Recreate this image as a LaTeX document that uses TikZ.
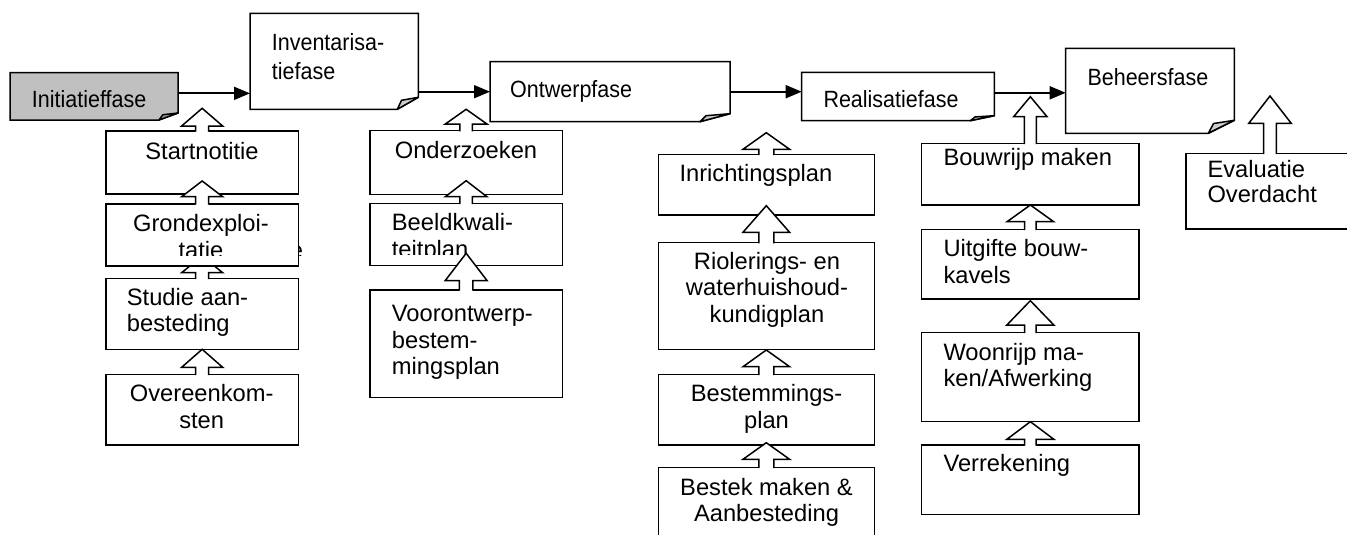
\documentclass[tikz,border=0pt]{standalone}
\usepackage{fontspec}
\setmainfont{Liberation Sans}
\newfontfamily\condsans{Liberation Sans}[FakeStretch=0.915]
\usetikzlibrary{arrows.meta}

\definecolor{phasegray}{HTML}{C0C0C0}
\definecolor{flapgray}{HTML}{9A9A9A}
\definecolor{flaplight}{HTML}{CCCCCC}

\newcommand\bodyfont{\fontsize{23.7}{26.5}\selectfont}
\newcommand\phasefont{\condsans\fontsize{23.5}{29}\selectfont}
\newcommand\stack[2]{\begin{tabular}[t]{@{}#1@{}}#2\end{tabular}}

\tikzset{
  frame/.style={inner sep=0pt, outer sep=0pt, anchor=north west},
  boxline/.style={draw=black, line width=1.5pt, fill=white},
  txt/.style={inner sep=0pt, font=\bodyfont},
  ptxt/.style={inner sep=0pt, font=\phasefont},
  flow/.style={line width=1.8pt, -{Triangle[length=16pt,width=13pt]}},
  blockline/.style={line width=1.5pt, line join=miter},
}

% phase box with a folded lower right corner:
% #1 node, #2 fill, #3 fold width, #4 fold height, #5 flap fill
\newcommand\foldbox[5]{%
  \draw[boxline, fill=#2] (#1.north west) -- (#1.north east)
    -- ([yshift=#4pt]#1.south east) -- ([xshift=-#3pt]#1.south east)
    -- (#1.south west) -- cycle;
  \draw[boxline, fill=#5, line join=round] ([xshift=-#3pt]#1.south east)
    -- ([xshift={-0.8*#3pt}, yshift={0.75*#4pt}]#1.south east)
    -- ([yshift=#4pt]#1.south east) -- cycle;}

% hollow upward block arrow starting at a box top:
% #1 start point, #2 length, #3 head height, #4 head half width, #5 shaft half width
\newcommand\uparr[5]{%
  \begin{scope}[shift={(#1)}]
    \fill[white] (-#5,1.2) -- (-#5,-#2+#3) -- (-#4,-#2+#3) -- (0,-#2)
      -- (#4,-#2+#3) -- (#5,-#2+#3) -- (#5,1.2) -- cycle;
    \draw[blockline] (-#5,0.7) -- (-#5,-#2+#3) -- (-#4,-#2+#3) -- (0,-#2)
      -- (#4,-#2+#3) -- (#5,-#2+#3) -- (#5,0.7);
  \end{scope}}

\begin{document}
\begin{tikzpicture}[x=1pt, y=-1pt]
\useasboundingbox (0,0) rectangle (1347,535);
\clip (0,0) rectangle (1347,535);

% phase frames
\node[frame, minimum width=168pt,   minimum height=47.3pt] (ini)  at (10,72.7)    {};
\node[frame, minimum width=168.3pt, minimum height=96pt]   (inv)  at (250,13.3)   {};
\node[frame, minimum width=240pt,   minimum height=60pt]   (ont)  at (490,61.7)   {};
\node[frame, minimum width=192.6pt, minimum height=48.2pt] (real) at (801.7,72.5) {};
\node[frame, minimum width=168.6pt, minimum height=85pt]   (beh)  at (1065.7,48.3){};

% activity frames
\node[frame, minimum width=192.3pt, minimum height=63pt]   (start)  at (106,131)     {};
\node[frame, minimum width=192.3pt, minimum height=62pt]   (grond)  at (106,204)     {};
\node[frame, minimum width=192.3pt, minimum height=71pt]   (studie) at (106,278.3)   {};
\node[frame, minimum width=192.3pt, minimum height=70.7pt] (over)   at (106,374.3)   {};
\node[frame, minimum width=192.3pt, minimum height=63.6pt] (onder)  at (370,130.7)   {};
\node[frame, minimum width=192.3pt, minimum height=62.4pt] (beeld)  at (370,203.3)   {};
\node[frame, minimum width=192.3pt, minimum height=107.3pt](voor)   at (370,290)     {};
\node[frame, minimum width=216pt,   minimum height=60.7pt] (inr)    at (658.3,154.3) {};
\node[frame, minimum width=216pt,   minimum height=106.6pt](riol)   at (658.3,242.7) {};
\node[frame, minimum width=216pt,   minimum height=70.7pt] (bestm)  at (658.3,374.3) {};
\node[frame, minimum width=216pt,   minimum height=95pt]   (bestek) at (658.3,467.3) {};
\node[frame, minimum width=217.3pt, minimum height=61.7pt] (bouw)   at (921.7,143.3) {};
\node[frame, minimum width=217.3pt, minimum height=69.7pt] (uitg)   at (921.7,229.3) {};
\node[frame, minimum width=217.3pt, minimum height=89.2pt] (woon)   at (921.7,332.3) {};
\node[frame, minimum width=217.3pt, minimum height=69.3pt] (verr)   at (921.7,445)   {};
\node[frame, minimum width=230pt,   minimum height=75.7pt] (eval)   at (1186,153.3)  {};

% activity boxes
\foreach \n in {start,studie,over,onder,beeld,voor,inr,riol,bestm,bestek,bouw,uitg,woon,verr,eval}
  \draw[boxline] (\n.north west) rectangle (\n.south east);

% overflowing letter behind the Grondexploitatie box
\begin{scope}
  \clip (280,230) rectangle (312,255);
  \node[txt, anchor=base] (tover) at (296.5,258) {e};
\end{scope}
\uparr{studie.north}{22.3}{16.7}{20.5}{6.5}
\draw[boxline] (grond.north west) rectangle (grond.south east);

% phase boxes
\foldbox{ini}{phasegray}{19}{7}{flapgray}
\foldbox{inv}{white}{21}{12}{flaplight}
\foldbox{ont}{white}{30}{8}{flaplight}
\foldbox{real}{white}{24}{5}{flaplight}
\foldbox{beh}{white}{26}{13}{flaplight}

% phase labels
\node[ptxt, anchor=base west] (tini)  at (31.7,107.3)  {Initiatieffase};
\node[ptxt, anchor=base west] (tinv)  at (271.7,50.7)  {\stack{l}{Inventarisa-\\tiefase}};
\node[ptxt, anchor=base west] (tont)  at (510,97)      {Ontwerpfase};
\node[ptxt, anchor=base west] (treal) at (823.3,107.3) {Realisatiefase};
\node[ptxt, anchor=base west] (tbeh)  at (1087.3,85)   {Beheersfase};

% activity labels
\node[txt, anchor=base] (tstart) at (202,159.3) {Startnotitie};
\begin{scope}
  \clip (106,200) rectangle (299,255);
  \node[txt, anchor=base] (tgrond) at (201,231.7) {\stack{c}{Grondexploi-\\tatie}};
\end{scope}
\node[txt, anchor=base west] (tstudie) at (126.7,305)  {\stack{l}{Studie aan-\\besteding}};
\node[txt, anchor=base]      (tover2)  at (201.7,401.7){\stack{c}{Overeenkom-\\sten}};
\node[txt, anchor=base]      (tonder)  at (466,158.3)  {Onderzoeken};
\begin{scope}
  \clip (370,200) rectangle (563,254.3);
  \node[txt, anchor=base west] (tbeeld) at (391.7,230.7) {\stack{l}{Beeldkwali-\\teitplan}};
\end{scope}
\node[txt, anchor=base west] (tvoor)   at (391.7,321.7) {\stack{l}{Voorontwerp-\\bestem-\\mingsplan}};
\node[txt, anchor=base west] (tinr)    at (679.3,181.7) {Inrichtingsplan};
\node[txt, anchor=base]      (triol)   at (767,269.3)   {\stack{c}{Riolerings- en\\waterhuishoud-\\kundigplan}};
\node[txt, anchor=base]      (tbestm)  at (766.5,401.7) {\stack{c}{Bestemmings-\\plan}};
\node[txt, anchor=base]      (tbestek) at (766.5,495)   {\stack{c}{Bestek maken \&\\Aanbesteding}};
\node[txt, anchor=base west] (tbouw)   at (943.3,165.7) {Bouwrijp maken};
\node[txt, anchor=base west] (tuitg)   at (943.3,256.7) {\stack{l}{Uitgifte bouw-\\kavels}};
\node[txt, anchor=base west] (twoon)   at (943.3,360)   {\stack{l}{Woonrijp ma-\\ken/Afwerking}};
\node[txt, anchor=base west] (tverr)   at (943.3,471.7) {Verrekening};
\node[txt, anchor=base west, font=\fontsize{23.7}{25}\selectfont] (teval) at (1207.3,177.7) {\stack{l}{Evaluatie\\Overdacht}};

% flow between phases
\draw[flow] ([yshift=3pt]ini.east) -- ([yshift=3pt]ini.east -| inv.west);
\draw[flow] (inv.east |- ont.west) -- (ont.west);
\draw[flow] (ont.east) -- (ont.east -| real.west);
\draw[flow] ([yshift=-2pt]real.east |- beh.west) -- ([yshift=-2pt]beh.west);

% block arrows
\uparr{start.north}{22.7}{17.7}{20.5}{6.5}
\uparr{grond.north}{23}{15.7}{20.5}{6.5}
\uparr{over.north}{25}{18}{20.5}{6.5}
\uparr{onder.north}{21.4}{14.7}{20.8}{6.2}
\uparr{beeld.north}{22.6}{16}{20.8}{6.2}
\uparr{voor.north}{36.7}{27.4}{21}{6.7}
\uparr{inr.north}{21.6}{16.6}{23.3}{7.5}
\uparr{riol.north}{37}{26.6}{23.3}{7.5}
\uparr{bestm.north}{24.3}{16.7}{23.3}{7.5}
\uparr{bestek.north}{24.6}{16.6}{23.3}{7.5}
\uparr{bouw.north}{46.6}{20}{16.7}{6}
\uparr{uitg.north}{24.3}{16.7}{23.3}{5.8}
\uparr{woon.north}{31.6}{24.3}{23.5}{5.8}
\uparr{verr.north}{23.3}{17.6}{23.5}{5.8}
\uparr{[xshift=84pt]eval.north west}{57.3}{27.3}{21.2}{6.3}
\end{tikzpicture}
\end{document}
